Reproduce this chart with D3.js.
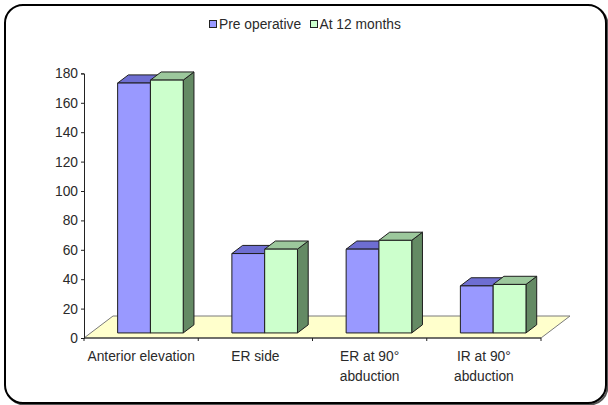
<!DOCTYPE html>
<html>
<head>
<meta charset="utf-8">
<script src="https://cdn.jsdelivr.net/npm/d3@7"></script>
<style>
  html, body { margin: 0; padding: 0; background: #fff; }
  svg { display: block; }
  text { font-family: "Liberation Sans", Arial, sans-serif; fill: #2a2a2a; }
</style>
</head>
<body>
<svg id="chart" width="608" height="405"></svg>
<script>
// Range of motion (degrees), before surgery and at 12 months
const categories = [["Anterior elevation"], ["ER side"], ["ER at 90°", "abduction"], ["IR at 90°", "abduction"]];
const seriesNames = ["Pre operative", "At 12 months"];
const preOperative = [170, 54, 57, 32];
const at12Months = [172, 57, 63, 33];
const yTicks = [0, 20, 40, 60, 80, 100, 120, 140, 160, 180];

const series = [
  { name: seriesNames[0], values: preOperative, front: "#9999ff", top: "#6e6ed2", side: "#5a5ab4" },
  { name: seriesNames[1], values: at12Months, front: "#ccffcc", top: "#9cc89c", side: "#648a64" }
];

const svg = d3.select("#chart");
const W = 608, H = 405;
const FONT = 13.8;

// outer rounded frame with a faint shadow on the lower right
svg.append("rect")
  .attr("x", 6.5).attr("y", 6.5).attr("width", W - 7).attr("height", H - 7)
  .attr("rx", 18).attr("ry", 18)
  .attr("fill", "none").attr("stroke", "#555").attr("stroke-width", 2);
svg.append("rect")
  .attr("x", 5).attr("y", 5).attr("width", W - 7).attr("height", H - 7)
  .attr("rx", 18).attr("ry", 18)
  .attr("fill", "#fff").attr("stroke", "#000").attr("stroke-width", 2);

// plot geometry (front plane of the floor)
const x0 = 84, x1 = 541, yBase = 338, yTop = 73.4;
const depth = { dx: 29, dy: -22 };       // full floor depth
const barDepth = [0.23, 0.6];             // bar front/back as fraction of floor depth

const keys = categories.map(c => c.join(" "));
const x = d3.scaleBand().domain(keys).range([x0, x1]);
const y = d3.scaleLinear().domain([0, 180]).range([yBase, yTop]);
const groupOffset = x.bandwidth() * 0.236;
const xs = d3.scaleBand().domain(seriesNames).range([0, 65.6]);

// floor
const floor = [
  [x0, yBase], [x1, yBase],
  [x1 + depth.dx, yBase + depth.dy], [x0 + depth.dx, yBase + depth.dy]
];
svg.append("path")
  .attr("d", d3.line()(floor) + "Z")
  .attr("fill", "#ffffcc").attr("stroke", "#7a7a7a").attr("stroke-width", 1);

// value axis
const yAxis = d3.axisLeft(y).tickValues(yTicks).tickSize(3).tickPadding(3);
const gy = svg.append("g").attr("transform", `translate(${x0},0)`).call(yAxis);
gy.select(".domain").attr("stroke", "#222");
gy.selectAll(".tick line").attr("stroke", "#222");
gy.selectAll(".tick text")
  .attr("font-size", FONT).style("font-family", "'Liberation Sans', Arial, sans-serif").attr("fill", "#2a2a2a");

// category axis ticks along the floor's front edge
const gx = svg.append("g");
gx.append("line").attr("x1", x0).attr("x2", x1).attr("y1", yBase).attr("y2", yBase)
  .attr("stroke", "#222");
gx.selectAll("line.tk").data(keys.concat(["end"])).enter().append("line")
  .attr("class", "tk")
  .attr("x1", (d, i) => i < keys.length ? x(d) : x1)
  .attr("x2", (d, i) => i < keys.length ? x(d) : x1)
  .attr("y1", yBase).attr("y2", yBase + 3)
  .attr("stroke", "#222");

// category labels
const labels = svg.append("g");
categories.forEach((lines, i) => {
  const cx = x(keys[i]) + x.bandwidth() / 2;
  const t = labels.append("text")
    .attr("x", cx).attr("y", 361)
    .attr("text-anchor", "middle").attr("font-size", FONT);
  lines.forEach((ln, j) => {
    t.append("tspan").attr("x", cx).attr("dy", j === 0 ? 0 : 20).text(ln);
  });
});

// 3-D columns
const bars = svg.append("g");
const fdx = depth.dx * barDepth[0], fdy = depth.dy * barDepth[0];
const bdx = depth.dx * (barDepth[1] - barDepth[0]), bdy = depth.dy * (barDepth[1] - barDepth[0]);

keys.forEach((k, i) => {
  series.forEach(s => {
    const v = s.values[i];
    const left = x(k) + groupOffset + xs(s.name) + fdx;
    const right = left + xs.bandwidth();
    const top = y(v) + fdy;
    const bottom = y(0) + fdy;
    const g = bars.append("g").attr("stroke", "#1e1e1e").attr("stroke-width", 1)
      .attr("stroke-linejoin", "round");
    // side face
    g.append("path").attr("fill", s.side).attr("d", d3.line()([
      [right, bottom], [right + bdx, bottom + bdy], [right + bdx, top + bdy], [right, top]
    ]) + "Z");
    // top face
    g.append("path").attr("fill", s.top).attr("d", d3.line()([
      [left, top], [right, top], [right + bdx, top + bdy], [left + bdx, top + bdy]
    ]) + "Z");
    // front face
    g.append("rect").attr("fill", s.front)
      .attr("x", left).attr("y", top)
      .attr("width", right - left).attr("height", bottom - top);
  });
});

// legend
const legend = svg.append("g");
const legendItems = [
  { x: 209.5, tx: 219 },
  { x: 310.5, tx: 319.5 }
];
series.forEach((s, i) => {
  legend.append("rect")
    .attr("x", legendItems[i].x).attr("y", 20.5).attr("width", 7).attr("height", 7)
    .attr("fill", s.front).attr("stroke", "#222").attr("stroke-width", 1);
  legend.append("text")
    .attr("x", legendItems[i].tx).attr("y", 28.5)
    .attr("font-size", FONT).text(s.name);
});
</script>
</body>
</html>
